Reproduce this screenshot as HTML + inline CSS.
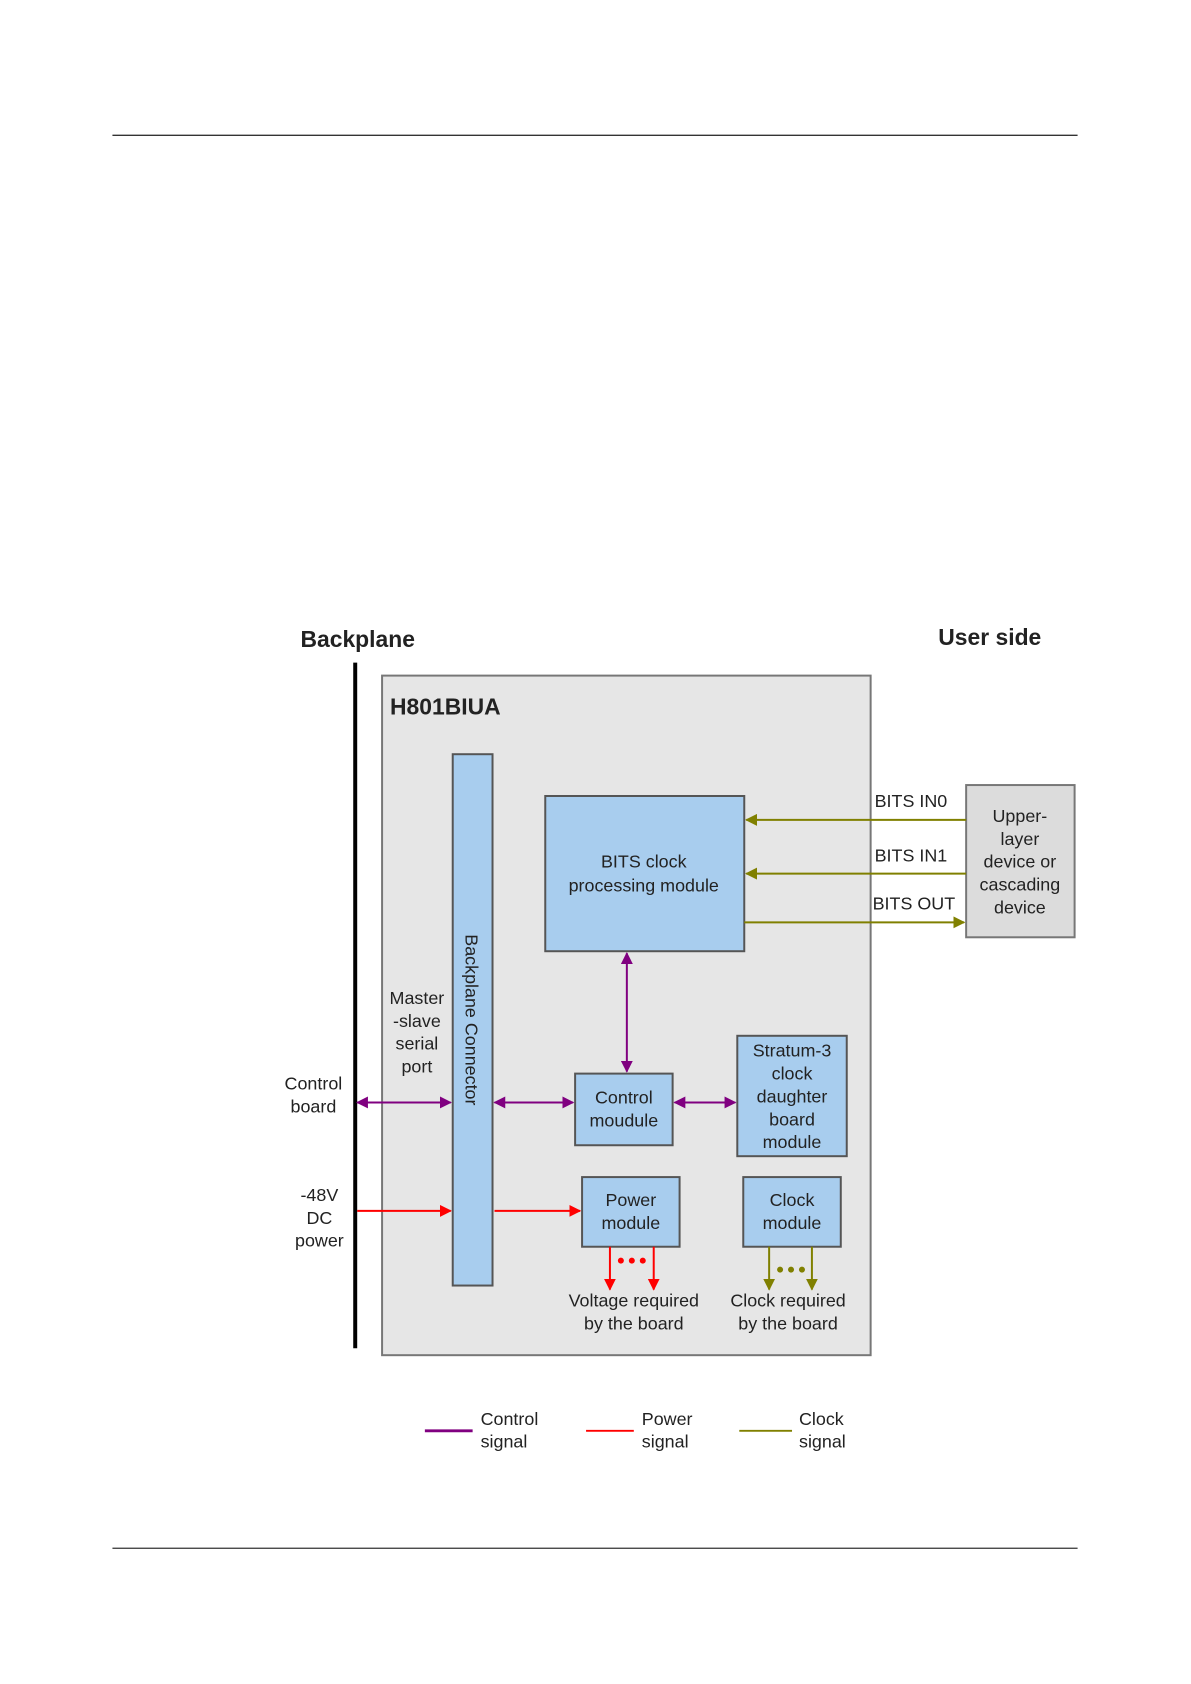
<!DOCTYPE html>
<html><head><meta charset="utf-8"><style>
html,body{margin:0;padding:0;background:#fff}
svg{display:block}
text{font-family:"Liberation Sans",sans-serif;fill:#222}
</style></head><body>
<svg width="1191" height="1684" viewBox="0 0 1191 1684" xmlns="http://www.w3.org/2000/svg">
<defs>
<marker id="ap" viewBox="0 0 10 10" refX="9" refY="5" markerWidth="6" markerHeight="6" orient="auto-start-reverse"><path d="M0,0 L10,5 L0,10 z" fill="#800080"/></marker>
<marker id="ar" viewBox="0 0 10 10" refX="9" refY="5" markerWidth="6" markerHeight="6" orient="auto-start-reverse"><path d="M0,0 L10,5 L0,10 z" fill="#f00"/></marker>
<marker id="ao" viewBox="0 0 10 10" refX="9" refY="5" markerWidth="6" markerHeight="6" orient="auto-start-reverse"><path d="M0,0 L10,5 L0,10 z" fill="#808000"/></marker>
</defs>
<g transform="scale(0.995)">
<line x1="113" y1="136" x2="1083" y2="136" stroke="#333" stroke-width="1.3"/>
<line x1="113" y1="1556" x2="1083" y2="1556" stroke="#333" stroke-width="1.3"/>
<text x="302" y="650" font-size="23" font-weight="bold">Backplane</text>
<text x="943" y="648" font-size="23" font-weight="bold">User side</text>
<line x1="357" y1="666" x2="357" y2="1355" stroke="#000" stroke-width="4"/>
<rect x="384" y="679" width="491" height="683" fill="#e6e6e6" stroke="#777" stroke-width="2"/>
<text x="392" y="718" font-size="23" font-weight="bold">H801BIUA</text>
<g fill="#a8cdee" stroke="#555" stroke-width="2">
<rect x="455" y="758" width="40" height="534"/>
<rect x="548" y="800" width="200" height="156"/>
<rect x="578" y="1079" width="98" height="72"/>
<rect x="741" y="1041" width="110" height="121"/>
<rect x="585" y="1183" width="98" height="70"/>
<rect x="747" y="1183" width="98" height="70"/>
</g>
<rect x="971" y="789" width="109" height="153" fill="#dcdcdc" stroke="#777" stroke-width="2"/>
<text transform="translate(468,1025) rotate(90)" font-size="18" text-anchor="middle">Backplane Connector</text>
<g font-size="18" text-anchor="middle">
<text x="647" y="872">BITS clock</text><text x="647" y="896">processing module</text>
<text x="627" y="1109">Control</text><text x="627" y="1132">moudule</text>
<text x="796" y="1062">Stratum-3</text><text x="796" y="1085">clock</text><text x="796" y="1108">daughter</text><text x="796" y="1131">board</text><text x="796" y="1154">module</text>
<text x="634" y="1212">Power</text><text x="634" y="1235">module</text>
<text x="796" y="1212">Clock</text><text x="796" y="1235">module</text>
<text x="1025" y="826">Upper-</text><text x="1025" y="849">layer</text><text x="1025" y="872">device or</text><text x="1025" y="895">cascading</text><text x="1025" y="918">device</text>
<text x="637" y="1313">Voltage required</text><text x="637" y="1336">by the board</text>
<text x="792" y="1313">Clock required</text><text x="792" y="1336">by the board</text>
<text x="315" y="1095">Control</text><text x="315" y="1118">board</text>
<text x="321" y="1207">-48V</text><text x="321" y="1230">DC</text><text x="321" y="1253">power</text>
<text x="419" y="1009">Master</text><text x="419" y="1032">-slave</text><text x="419" y="1055">serial</text><text x="419" y="1078">port</text>
</g>
<g font-size="18">
<text x="879" y="811">BITS IN0</text>
<text x="879" y="866">BITS IN1</text>
<text x="877" y="914">BITS OUT</text>
</g>
<g stroke="#808000" stroke-width="2" fill="none">
<line x1="971" y1="824" x2="750" y2="824" marker-end="url(#ao)"/>
<line x1="971" y1="878" x2="750" y2="878" marker-end="url(#ao)"/>
<line x1="748" y1="927" x2="969" y2="927" marker-end="url(#ao)"/>
<line x1="773" y1="1253" x2="773" y2="1296" marker-end="url(#ao)"/>
<line x1="816" y1="1253" x2="816" y2="1296" marker-end="url(#ao)"/>
</g>
<g fill="#808000"><circle cx="784" cy="1276" r="3"/><circle cx="795" cy="1276" r="3"/><circle cx="806" cy="1276" r="3"/></g>
<g stroke="#800080" stroke-width="2" fill="none">
<line x1="630" y1="958" x2="630" y2="1077" marker-start="url(#ap)" marker-end="url(#ap)"/>
<line x1="359" y1="1108" x2="453" y2="1108" marker-start="url(#ap)" marker-end="url(#ap)"/>
<line x1="497" y1="1108" x2="576" y2="1108" marker-start="url(#ap)" marker-end="url(#ap)"/>
<line x1="678" y1="1108" x2="739" y2="1108" marker-start="url(#ap)" marker-end="url(#ap)"/>
</g>
<g stroke="#f00" stroke-width="2" fill="none">
<line x1="359" y1="1217" x2="453" y2="1217" marker-end="url(#ar)"/>
<line x1="497" y1="1217" x2="583" y2="1217" marker-end="url(#ar)"/>
<line x1="613" y1="1253" x2="613" y2="1296" marker-end="url(#ar)"/>
<line x1="657" y1="1253" x2="657" y2="1296" marker-end="url(#ar)"/>
</g>
<g fill="#f00"><circle cx="624" cy="1267" r="3"/><circle cx="635" cy="1267" r="3"/><circle cx="646" cy="1267" r="3"/></g>
<line x1="427" y1="1438" x2="475" y2="1438" stroke="#800080" stroke-width="3"/>
<line x1="589" y1="1438" x2="637" y2="1438" stroke="#f00" stroke-width="2"/>
<line x1="743" y1="1438" x2="796" y2="1438" stroke="#808000" stroke-width="2"/>
<g font-size="18">
<text x="483" y="1432">Control</text><text x="483" y="1455">signal</text>
<text x="645" y="1432">Power</text><text x="645" y="1455">signal</text>
<text x="803" y="1432">Clock</text><text x="803" y="1455">signal</text>
</g>
</g>
</svg>
</body></html>
